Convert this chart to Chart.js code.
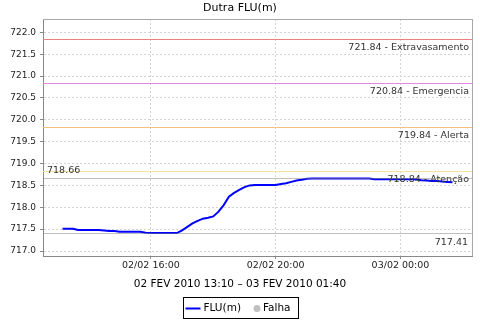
<!DOCTYPE html>
<html>
<head>
<meta charset="utf-8">
<title>Dutra FLU(m)</title>
<script src="https://cdn.jsdelivr.net/npm/chart.js@4.4.1/dist/chart.umd.min.js"></script>
<style>
	html, body { margin: 0; padding: 0; background: #fff; }
	#wrap { width: 480px; height: 320px; }
</style>
</head>
<body>
<div id="wrap"><canvas id="chart" width="480" height="320"></canvas></div>
<script>
// Leituras a cada 10 min.
const times = [
	'02/02 13:10', '02/02 13:20', '02/02 13:30', '02/02 13:40', '02/02 13:50', '02/02 14:00',
	'02/02 14:10', '02/02 14:20', '02/02 14:30', '02/02 14:40', '02/02 14:50', '02/02 15:00',
	'02/02 15:10', '02/02 15:20', '02/02 15:30', '02/02 15:40', '02/02 15:50', '02/02 16:00',
	'02/02 16:10', '02/02 16:20', '02/02 16:30', '02/02 16:40', '02/02 16:50', '02/02 17:00',
	'02/02 17:10', '02/02 17:20', '02/02 17:30', '02/02 17:40', '02/02 17:50', '02/02 18:00',
	'02/02 18:10', '02/02 18:20', '02/02 18:30', '02/02 18:40', '02/02 18:50', '02/02 19:00',
	'02/02 19:10', '02/02 19:20', '02/02 19:30', '02/02 19:40', '02/02 19:50', '02/02 20:00',
	'02/02 20:10', '02/02 20:20', '02/02 20:30', '02/02 20:40', '02/02 20:50', '02/02 21:00',
	'02/02 21:10', '02/02 21:20', '02/02 21:30', '02/02 21:40', '02/02 21:50', '02/02 22:00',
	'02/02 22:10', '02/02 22:20', '02/02 22:30', '02/02 22:40', '02/02 22:50', '02/02 23:00',
	'02/02 23:10', '02/02 23:20', '02/02 23:30', '02/02 23:40', '02/02 23:50', '03/02 00:00',
	'03/02 00:10', '03/02 00:20', '03/02 00:30', '03/02 00:40', '03/02 00:50', '03/02 01:00',
	'03/02 01:10', '03/02 01:20', '03/02 01:30', '03/02 01:40'
];
const levels = [
	717.51, 717.51, 717.51, 717.48, 717.48, 717.48,
	717.48, 717.48, 717.47, 717.46, 717.46, 717.44,
	717.44, 717.44, 717.44, 717.44, 717.42, 717.41,
	717.41, 717.41, 717.41, 717.41, 717.41, 717.47,
	717.55, 717.63, 717.69, 717.74, 717.76, 717.79,
	717.90, 718.05, 718.24, 718.33, 718.40, 718.46,
	718.50, 718.51, 718.51, 718.51, 718.51, 718.51,
	718.53, 718.55, 718.58, 718.61, 718.63, 718.65,
	718.66, 718.66, 718.66, 718.66, 718.66, 718.66,
	718.66, 718.66, 718.66, 718.66, 718.66, 718.66,
	718.64, 718.64, 718.64, 718.64, 718.64, 718.64,
	718.64, 718.64, 718.64, 718.62, 718.61, 718.60,
	718.60, 718.59, 718.58, 718.57
];
const falhas = []; // nenhuma falha no periodo

// Cotas de referencia.
const limitValues = [721.84, 720.84, 719.84, 718.84];
const limitNames = ['Extravasamento', 'Emergencia', 'Alerta', 'Atenção'];
const limitColors = ['#ee8080', '#e488e4', '#f6c080', '#f4e29a'];

const xTickLabels = ['02/02 16:00', '02/02 20:00', '03/02 00:00'];
const yTickStep = 0.5;

const chartTitle = 'Dutra FLU(m)';
const xTitle = '02 FEV 2010 13:10 – 03 FEV 2010 01:40';

function toMinutes( stamp ) {
	const [date, hm] = stamp.split( ' ' );
	const day = parseInt( date.slice( 0, 2 ), 10 );
	const [h, m] = hm.split( ':' ).map( Number );
	return ( day - 2 ) * 1440 + h * 60 + m;
}

const points = times.map( ( t, i ) => ( { x: toMinutes( t ), y: levels[i] } ) );
const maxLevel = Math.max( ...levels );
const minLevel = Math.min( ...levels );

// 5% de margem em cada lado do periodo.
const firstX = points[0].x;
const lastX = points[points.length - 1].x;
const xMargin = ( lastX - firstX ) * 0.05;

const FONT = '"DejaVu Sans", sans-serif';

// Linhas de cota + max/min, desenhadas por cima da serie.
const markerPlugin = {
	id: 'nivelMarkers',
	afterDatasetsDraw( chart ) {
		const { ctx, chartArea: a, scales: { y } } = chart;
		ctx.save();
		ctx.font = '9.5px ' + FONT;
		ctx.textBaseline = 'middle';

		const hline = ( value, color ) => {
			const py = Math.round( y.getPixelForValue( value ) );
			ctx.fillStyle = color;
			ctx.fillRect( a.left, py, a.right - a.left, 1 );
			return py + 0.5;
		};

		limitValues.forEach( ( v, i ) => {
			const py = hline( v, limitColors[i] );
			ctx.fillStyle = '#333';
			ctx.textAlign = 'right';
			ctx.fillText( v.toFixed( 2 ) + ' - ' + limitNames[i], a.right - 3, py + 8 );
		} );

		// max / min do periodo (semi-transparente sobre a serie)
		let py = hline( maxLevel, 'rgba(128,128,128,0.5)' );
		ctx.fillStyle = '#333';
		ctx.textAlign = 'left';
		ctx.fillText( maxLevel.toFixed( 2 ), a.left + 4, py - 8 );

		py = hline( minLevel, 'rgba(128,128,128,0.5)' );
		ctx.fillStyle = '#333';
		ctx.textAlign = 'right';
		ctx.fillText( minLevel.toFixed( 2 ), a.right - 4, py + 9 );

		// moldura superior / direita
		ctx.fillStyle = '#a8a8a8';
		ctx.fillRect( a.left, Math.round( a.top ), a.right - a.left + 1, 1 );
		ctx.fillRect( Math.round( a.right ), a.top, 1, a.bottom - a.top );
		ctx.restore();
	}
};

// Titulos centrados no canvas e legenda com moldura no rodape.
const frameTextPlugin = {
	id: 'frameText',
	afterDraw( chart ) {
		const ctx = chart.ctx;
		const cx = chart.width / 2;
		ctx.save();
		ctx.textAlign = 'center';
		ctx.textBaseline = 'middle';
		ctx.fillStyle = '#000';
		ctx.font = '11px ' + FONT;
		ctx.fillText( chartTitle, cx, 8.5 );
		ctx.font = '10.5px ' + FONT;
		ctx.fillText( xTitle, cx, 284 );

		ctx.font = '10.5px ' + FONT;
		const w1 = ctx.measureText( 'FLU(m)' ).width;
		const w2 = ctx.measureText( 'Falha' ).width;
		const boxW = Math.round( 2 + 15 + 3 + w1 + 16 + 6 + w2 + 8 );
		const x0 = Math.round( cx - boxW / 2 ) + 0.5;
		const y0 = 297.5;
		const cy = 308.5;

		ctx.strokeStyle = '#000';
		ctx.lineWidth = 1;
		ctx.strokeRect( x0, y0, boxW, 21 );

		ctx.strokeStyle = '#0000ff';
		ctx.lineWidth = 2;
		ctx.beginPath();
		ctx.moveTo( x0 + 2, cy );
		ctx.lineTo( x0 + 17, cy );
		ctx.stroke();

		ctx.textAlign = 'left';
		ctx.fillText( 'FLU(m)', x0 + 20, cy );

		const dotX = x0 + 20 + w1 + 16;
		ctx.fillStyle = '#c0c0c0';
		ctx.beginPath();
		ctx.arc( dotX, cy, 3.5, 0, Math.PI * 2 );
		ctx.fill();

		ctx.fillStyle = '#000';
		ctx.fillText( 'Falha', dotX + 6, cy );
		ctx.restore();
	}
};

new Chart( document.getElementById( 'chart' ), {
	type: 'line',
	data: {
		datasets: [
			{
				label: 'FLU(m)',
				data: points,
				borderColor: '#0000ff',
				borderWidth: 2,
				pointRadius: 0,
				tension: 0,
				fill: false
			},
			{
				label: 'Falha',
				data: falhas,
				showLine: false,
				pointStyle: 'circle',
				pointRadius: 3.5,
				backgroundColor: '#c0c0c0',
				borderColor: '#c0c0c0'
			}
		]
	},
	options: {
		responsive: false,
		animation: false,
		events: [],
		layout: {
			padding: { left: 0, right: 8, top: 19, bottom: 25 }
		},
		scales: {
			x: {
				type: 'linear',
				min: firstX - xMargin,
				max: lastX + xMargin,
				afterFit: ( scale ) => { scale.height = 39; },
				afterBuildTicks: ( scale ) => {
					scale.ticks = xTickLabels.map( l => ( { value: toMinutes( l ) } ) );
				},
				ticks: {
					callback: ( value ) => xTickLabels.find( l => toMinutes( l ) === value ),
					color: '#222',
					padding: 1,
					maxRotation: 0,
					font: { family: FONT, size: 9.5 }
				},
				grid: {
					color: '#d4d4d4',
					tickColor: '#888',
					tickLength: 3,
					tickBorderDash: []
				},
				border: { color: '#888', dash: [2, 2] }
			},
			y: {
				min: 716.886,
				max: 722.304,
				afterFit: ( scale ) => { scale.width = 43; },
				ticks: {
					stepSize: yTickStep,
					includeBounds: false,
					callback: ( value ) => value.toFixed( 1 ),
					color: '#222',
					padding: 4,
					font: { family: FONT, size: 9 }
				},
				grid: {
					color: '#d4d4d4',
					tickColor: '#888',
					tickLength: 3,
					tickBorderDash: []
				},
				border: { color: '#888', dash: [2, 2] }
			}
		},
		plugins: {
			legend: { display: false },
			tooltip: { enabled: false },
			title: { display: false }
		}
	},
	plugins: [markerPlugin, frameTextPlugin]
} );
</script>
</body>
</html>
